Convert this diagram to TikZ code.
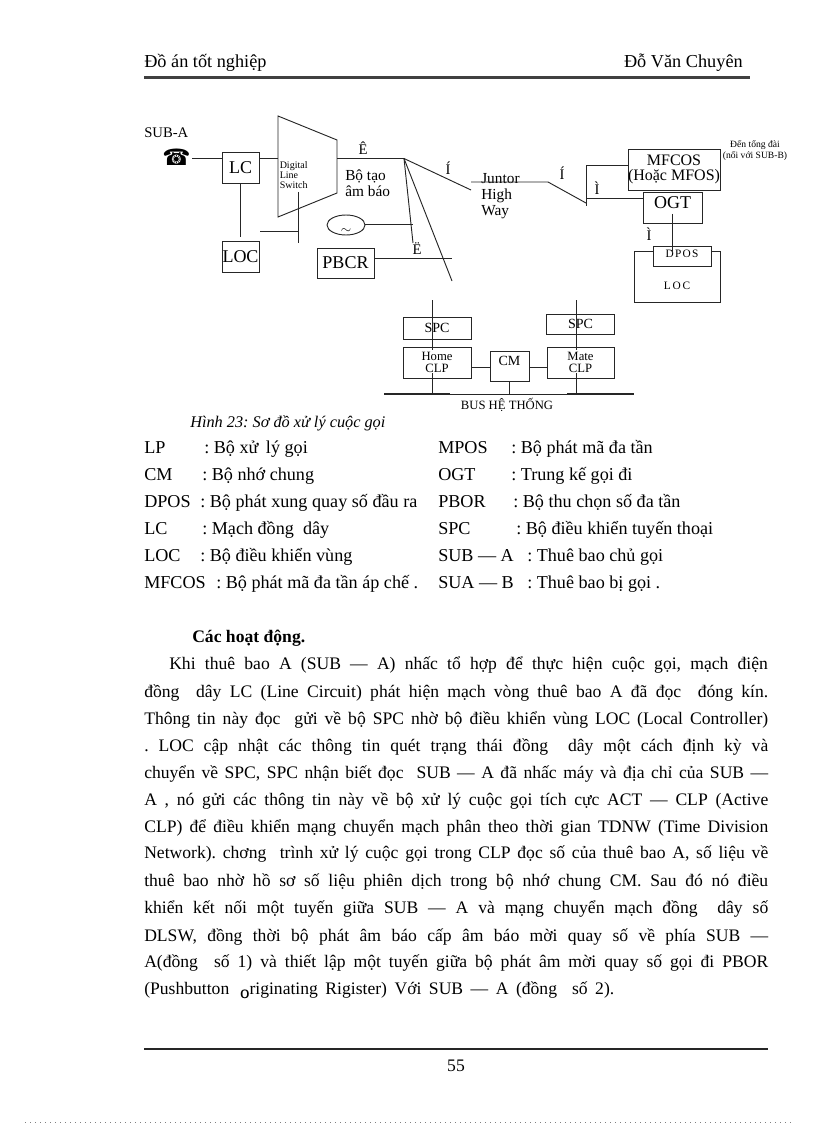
\documentclass[tikz,border=0pt]{standalone}
\usepackage{fontspec}
\setmainfont{Liberation Serif}
\newfontfamily\symfont{DejaVu Sans}
\usetikzlibrary{shapes,positioning,calc}
\frenchspacing

\begin{document}
\begin{tikzpicture}[
  x=0.75pt, y=-0.75pt,
  wire/.style={draw=black!85, line width=0.7pt},
  unitbox/.style={rectangle, draw=black!85, line width=0.7pt, fill=white, inner sep=0pt,
                  align=center, font=\fontsize{13.5}{13.5}\selectfont},
  smallbox/.style={unitbox, font=\fontsize{8.5}{10}\selectfont},
  tag/.style={inner sep=0pt, align=center, font=\fontsize{11}{12}\selectfont},
  tinytag/.style={inner sep=0pt, align=left, font=\fontsize{7.5}{7.5}\selectfont},
  head/.style={inner sep=0pt, anchor=base west, font=\fontsize{13.7}{15}\selectfont},
  legend/.style={inner sep=0pt, anchor=base west, font=\fontsize{13.6}{15}\selectfont},
  body/.style={inner sep=0pt, anchor=base west, font=\fontsize{13.2}{15}\selectfont},
]
  \useasboundingbox (0,0) rectangle (816,1123);
  % Column x-coordinates of the text block
  \def\xleft{144}
  \def\xright{438}
  \newcommand{\fullline}[1]{\makebox[468pt][s]{#1}}

  % Page head
  \node[head] (headl) at (\xleft,68) {Đồ án tốt nghiệp};
  \node[head, anchor=base east] (headr) at (743,68) {Đỗ Văn Chuyên};
  \coordinate (hrulel) at (\xleft,77.5);
  \coordinate (hruler) at (750,77.5);
  \draw[line width=2.2pt, black!75] (hrulel) -- (hruler);

  % Subscriber and line side
  \node[tag, anchor=west] (suba) at (\xleft,133) {SUB-A};
  \node[inner sep=0pt, font=\symfont\fontsize{17}{17}\selectfont] (phone) at (176.5,157) {☎};
  \node[unitbox, minimum width=27.75pt, minimum height=23.25pt] (lc) at (240.5,167.5) {LC};
  \node[unitbox, minimum width=27.75pt, minimum height=23.25pt] (loc) at (240.5,256.5) {LOC};
  \coordinate (pout) at (192,158.5);
  \coordinate (lcin) at (222,158.5);
  \coordinate (lcout) at (259,158.5);
  \draw[wire] (pout) -- (lcin);
  \coordinate (locup) at (240,237);
  \draw[wire] (lc.south -| locup) -- (locup);

  % Digital line switch
  \coordinate (swa) at (278,116);
  \coordinate (swb) at (337,140);
  \coordinate (swc) at (337,193);
  \coordinate (swd) at (278,217);
  \coordinate (swin) at (278,158.5);
  \coordinate (swout) at (337,158.5);
  \draw[wire] (swa) -- (swb) -- (swc) -- (swd) -- cycle;
  \draw[wire] (lcout) -- (swin);
  \node[tinytag, anchor=west] (swtext) at (279.5,175) {Digital\\Line\\Switch};
  \coordinate (ctla) at (260,231);
  \coordinate (ctlb) at (298,231);
  \coordinate (ctlc) at (298,192);
  \coordinate (ctld) at (298,243);
  \draw[wire] (ctla) -- (ctlb);
  \draw[wire] (ctlc) -- (ctld);

  % Tone generator and receiver
  \coordinate (fork) at (404,158.5);
  \draw[wire] (swout) -- (fork);
  \node[tag] (ehat) at (363,148) {Ê};
  \node[tag, anchor=north west, align=left, font=\fontsize{11.5}{11.5}\selectfont] (tone) at (345,170) {Bộ tạo\\âm báo};
  \node[ellipse, draw=black!85, line width=0.7pt, minimum width=28.5pt, minimum height=15pt, inner sep=0pt] (osc) at (346,225) {};
  \node[inner sep=0pt, font=\fontsize{10}{10}\selectfont] (wave) at (346,231) {$\sim$};
  \node[unitbox, minimum width=42.75pt, minimum height=22.5pt] (pbcr) at (345.5,263) {PBCR};
  \coordinate (oscend) at (413,224.5);
  \coordinate (pbend) at (452,258);
  \draw[wire] (osc.east |- oscend) -- (oscend);
  \draw[wire] (pbcr.east |- pbend) -- (pbend);
  \node[tag] (edia) at (417,249) {Ë};
  \coordinate (dasha) at (413,243);
  \coordinate (longa) at (452,281);
  \coordinate (juna) at (471,190);
  \draw[wire] (fork) -- (dasha);
  \draw[wire] (fork) -- (longa);
  \draw[wire] (fork) -- (juna);
  \node[tag] (ia) at (448,168) {Í};

  % Junctor highway
  \node[tag, anchor=north west, align=left, font=\fontsize{11.5}{12}\selectfont] (highway) at (481,173) {Juntor\\High\\Way};
  \coordinate (junb) at (471,182);
  \coordinate (junc) at (548,182);
  \coordinate (jund) at (586,203);
  \draw[wire] (junb) -- (junc) -- (jund);
  \node[tag] (ib) at (562,173) {Í};

  % Outgoing side
  \node[unitbox, minimum width=64.5pt, minimum height=30.75pt, font=\fontsize{12}{10.8}\selectfont] (mfcos) at (674,169.5) {MFCOS\\(Hoặc MFOS)};
  \node[unitbox, minimum width=44.25pt, minimum height=23.25pt] (ogt) at (672.5,207.5) {};
  \node[inner sep=0pt, font=\fontsize{13.5}{13.5}\selectfont] (ogttext) at (672.5,203) {OGT};
  \node[tinytag, align=center, font=\fontsize{7.2}{8.2}\selectfont] (dest) at (755,150.5) {Đến tổng đài\\(nối với SUB-B)};
  \coordinate (busa) at (586,165);
  \coordinate (busb) at (586,206);
  \coordinate (busc) at (586,198);
  \draw[wire] (busb) -- (busa) -- (mfcos.west |- busa);
  \draw[wire] (busc) -- (ogt.west |- busc);
  \node[tag] (ic) at (597,188) {Ì};

  % Local controller with DPOS
  \node[unitbox, minimum width=64.75pt, minimum height=38.25pt] (locbox) at (677.5,276.5) {};
  \node[smallbox, minimum width=43.5pt, minimum height=15pt] (dpos) at (682,256) {};
  \node[inner sep=0pt, font=\fontsize{8.5}{10}\selectfont] (dpostext) at (682,254) {D\kern1pt P\kern1pt O\kern1pt S};
  \node[inner sep=0pt, font=\fontsize{8.5}{10}\selectfont] (loctext) at (677,286) {L\,O\,C};
  \coordinate (ogtdown) at (672,214);
  \coordinate (dposup) at (672,253);
  \draw[wire] (ogtdown) -- (dposup);
  \node[tag] (id) at (649,234) {Ì};

  % Processors and system bus
  \node[unitbox, minimum width=51pt, minimum height=16.5pt, font=\fontsize{10.5}{12}\selectfont] (spca) at (437,328) {SPC};
  \node[unitbox, minimum width=51pt, minimum height=15pt, font=\fontsize{10.5}{12}\selectfont] (spcb) at (580.5,324) {SPC};
  \node[unitbox, minimum width=51pt, minimum height=23.25pt, font=\fontsize{9.5}{9.2}\selectfont] (clpa) at (437,362.5) {Home\\CLP};
  \node[unitbox, minimum width=50.25pt, minimum height=23.25pt, font=\fontsize{9.5}{9.2}\selectfont] (clpb) at (580.5,362.5) {Mate\\CLP};
  \node[unitbox, minimum width=29.25pt, minimum height=22.5pt, font=\fontsize{10.5}{12}\selectfont] (cm) at (509.5,366) {};
  \node[inner sep=0pt, font=\fontsize{10.5}{12}\selectfont] (cmtext) at (509.5,361) {CM};
  \coordinate (bleft) at (384,394);
  \coordinate (bmidl) at (450,394);
  \coordinate (bmidr) at (567,394);
  \coordinate (bright) at (634,394);
  \draw[line width=1.4pt, black!85] (bleft) -- (bmidl);
  \draw[wire] (bmidl) -- (bmidr);
  \draw[line width=1.4pt, black!85] (bmidr) -- (bright);
  \coordinate (ina) at (432,300);
  \coordinate (inb) at (576,300);
  \coordinate (inc) at (432,350);
  \coordinate (ind) at (576,350);
  \coordinate (ine) at (432,373);
  \coordinate (inf) at (576,373);
  \draw[wire] (ina) -- (inc);
  \draw[wire] (inb) -- (ind);
  \draw[wire] (ine) -- (ine |- bleft);
  \draw[wire] (inf) -- (inf |- bleft);
  \coordinate (cmlink) at (509,367);
  \draw[wire] (cm.south -| cmlink) -- (cmlink |- bleft);
  \draw[wire] (clpa.east |- cmlink) -- (cm.west |- cmlink);
  \draw[wire] (cm.east |- cmlink) -- (clpb.west |- cmlink);
  \node[tag, font=\fontsize{9.5}{11}\selectfont] (bustext) at (507,405) {BUS HỆ THỐNG};

  % Caption and legend
  \node[legend, font=\itshape\fontsize{12.2}{15}\selectfont] (caption) at (190,427) {Hình 23: Sơ đồ xử lý cuộc gọi};
  \node[legend] (ka) at (\xleft,453) {LP};
  \node[legend] (va) at (204,453) {: Bộ xử\, lý gọi};
  \node[legend] (kb) at (\xleft,480) {CM};
  \node[legend] (vb) at (202,480) {: Bộ nhớ chung};
  \node[legend] (kc) at (\xleft,507) {DPOS};
  \node[legend] (vc) at (200,507) {: Bộ phát xung quay số đầu ra};
  \node[legend] (kd) at (\xleft,534) {LC};
  \node[legend] (vd) at (202,534) {: Mạch đồng\ \ dây};
  \node[legend] (ke) at (\xleft,561) {LOC};
  \node[legend] (ve) at (200,561) {: Bộ điều khiển vùng};
  \node[legend] (kf) at (\xleft,588) {MFCOS};
  \node[legend] (vf) at (216,588) {: Bộ phát mã đa tần áp chế .};
  \node[legend] (kg) at (\xright,453) {MPOS};
  \node[legend] (vg) at (511,453) {: Bộ phát mã đa tần};
  \node[legend] (kh) at (\xright,480) {OGT};
  \node[legend] (vh) at (511,480) {: Trung kế gọi đi};
  \node[legend] (ki) at (\xright,507) {PBOR};
  \node[legend] (vi) at (513,507) {: Bộ thu chọn số đa tần};
  \node[legend] (kj) at (\xright,534) {SPC};
  \node[legend] (vj) at (516,534) {: Bộ điều khiển tuyến thoại};
  \node[legend] (kk) at (\xright,561) {SUB — A};
  \node[legend] (vk) at (527,561) {: Thuê bao chủ gọi};
  \node[legend] (kl) at (\xright,588) {SUA — B};
  \node[legend] (vl) at (527,588) {: Thuê bao bị gọi .};

  % Body text
  \node[body, font=\bfseries\fontsize{13.2}{15}\selectfont] (title) at (192,642) {Các hoạt động.};
  \node[body] (la) at (169,669) {\makebox[449pt][s]{Khi thuê bao A (SUB — A) nhấc tổ hợp để thực hiện cuộc gọi, mạch điện}};
  \node[body] (lb) at (\xleft,697) {\fullline{đồng\ \ dây LC (Line Circuit) phát hiện mạch vòng thuê bao A đã đọc\ \ đóng kín.}};
  \node[body] (lc2) at (\xleft,724) {\fullline{Thông tin này đọc\ \ gửi về bộ SPC nhờ bộ điều khiển vùng LOC (Local Controller)}};
  \node[body] (ld) at (\xleft,751) {\fullline{. LOC cập nhật các thông tin quét trạng thái đồng\ \ dây một cách định kỳ và}};
  \node[body] (le) at (\xleft,778) {\fullline{chuyển về SPC, SPC nhận biết đọc\ \ SUB — A đã nhấc máy và địa chỉ của SUB —}};
  \node[body] (lf) at (\xleft,805) {\fullline{A , nó gửi các thông tin này về bộ xử lý cuộc gọi tích cực ACT — CLP (Active}};
  \node[body] (lg) at (\xleft,832) {\fullline{CLP) để điều khiển mạng chuyển mạch phân theo thời gian TDNW (Time Division}};
  \node[body] (lh) at (\xleft,858) {\fullline{Network). chơng\ \ trình xử lý cuộc gọi trong CLP đọc số của thuê bao A, số liệu về}};
  \node[body] (li) at (\xleft,886) {\fullline{thuê bao nhờ hồ sơ số liệu phiên dịch trong bộ nhớ chung CM. Sau đó nó điều}};
  \node[body] (lj) at (\xleft,913) {\fullline{khiển kết nối một tuyến giữa SUB — A và mạng chuyển mạch đồng\ \ dây số}};
  \node[body] (lk) at (\xleft,941) {\fullline{DLSW, đồng thời bộ phát âm báo cấp âm báo mời quay số về phía SUB —}};
  \node[body] (ll) at (\xleft,967) {\fullline{A(đồng\ \ số 1) và thiết lập một tuyến giữa bộ phát âm mời quay số gọi đi PBOR}};
  \node[body] (lm) at (\xleft,994) {\makebox[352.5pt][s]{(Pushbutton\hspace{8pt}\raisebox{-3pt}{\sffamily\bfseries\fontsize{9}{9}\selectfont O}riginating Rigister) Với SUB — A (đồng\ \ số 2).}};

  % Page foot
  \coordinate (frulel) at (\xleft,1049);
  \coordinate (fruler) at (768,1049);
  \draw[line width=1.5pt, black!85] (frulel) -- (fruler);
  \node[head, anchor=base, font=\fontsize{13.2}{15}\selectfont] (pageno) at (456,1071) {55};

  % Dotted edge of the page
  \coordinate (dota) at (25,1122);
  \coordinate (dotb) at (791,1122);
  \draw[black!50, line width=0.5pt, dash pattern=on 0.75pt off 3pt] (dota) -- (dotb);
\end{tikzpicture}
\end{document}
